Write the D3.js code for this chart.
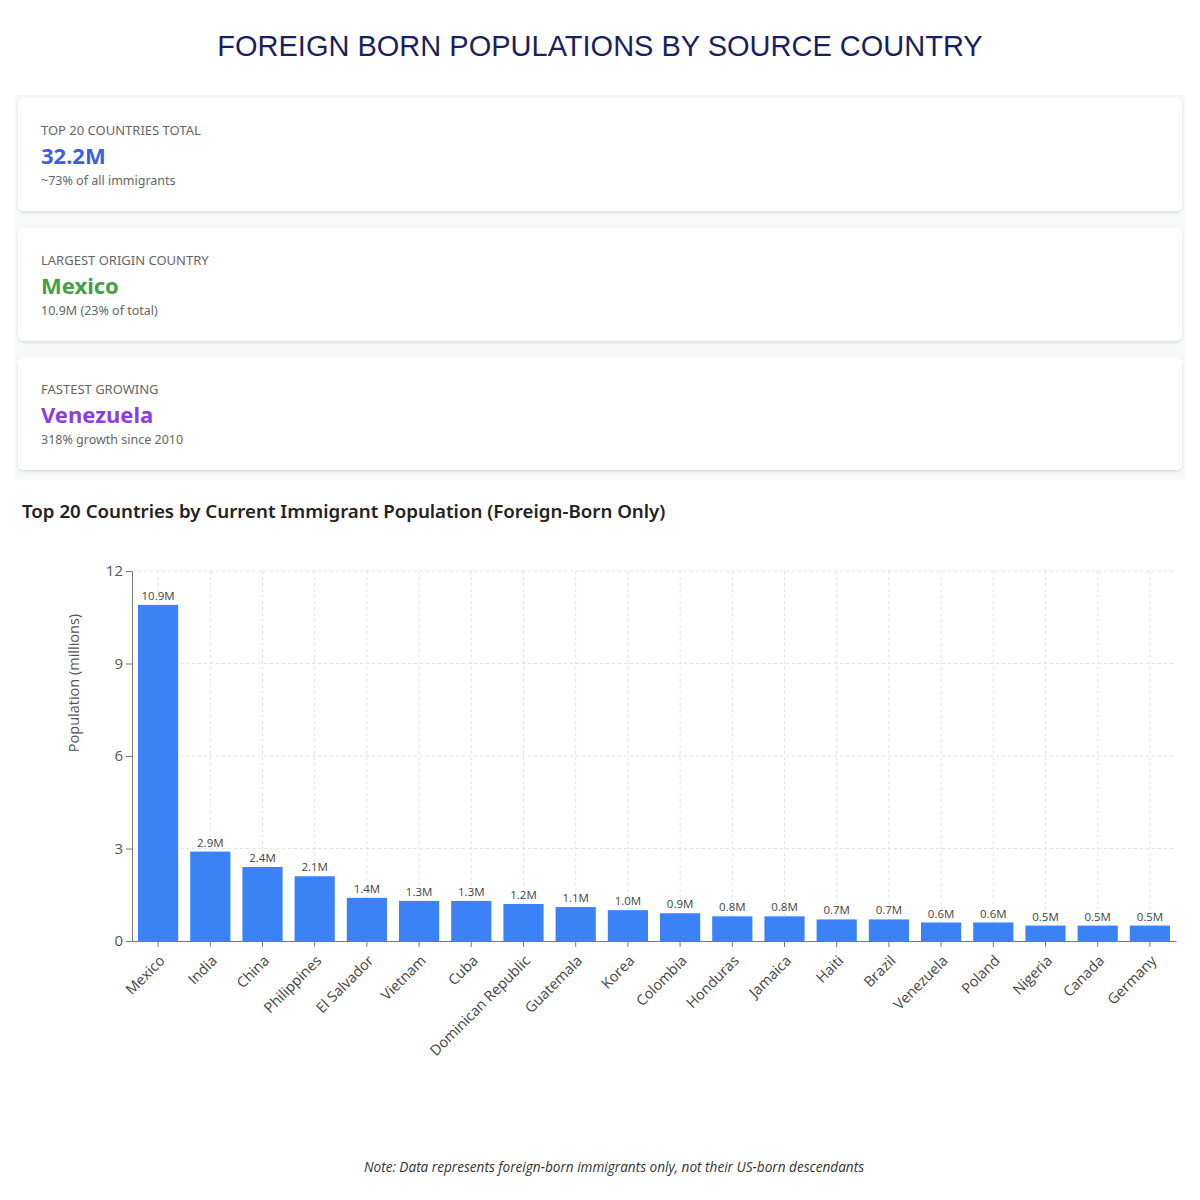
<!DOCTYPE html>
<html>
<head>
<meta charset="utf-8">
<script src="https://cdn.jsdelivr.net/npm/d3@7"></script>
<style>
  body { margin: 0; background: #fff; }
  svg { display: block; }
</style>
</head>
<body>
<div id="chart"></div>
<script>
const width = 1200, height = 1200;

// data
const countries = ['Mexico', 'India', 'China', 'Philippines', 'El Salvador', 'Vietnam', 'Cuba',
  'Dominican Republic', 'Guatemala', 'Korea', 'Colombia', 'Honduras', 'Jamaica', 'Haiti',
  'Brazil', 'Venezuela', 'Poland', 'Nigeria', 'Canada', 'Germany'];
const population = [10.9, 2.9, 2.4, 2.1, 1.4, 1.3, 1.3, 1.2, 1.1, 1.0, 0.9, 0.8, 0.8, 0.7,
  0.7, 0.6, 0.6, 0.5, 0.5, 0.5];
const yTicks = [0, 3, 6, 9, 12];

const cardLabels = ['TOP 20 COUNTRIES TOTAL', 'LARGEST ORIGIN COUNTRY', 'FASTEST GROWING'];
const cardValues = ['32.2M', 'Mexico', 'Venezuela'];
const cardNotes = ['~73% of all immigrants', '10.9M (23% of total)', '318% growth since 2010'];
const cardColors = ['#3d5fe0', '#43a047', '#8b3dec'];

const svg = d3.select('#chart').append('svg')
  .attr('width', width)
  .attr('height', height);

const defs = svg.append('defs');
const shadow = defs.append('filter').attr('id', 'shadow')
  .attr('x', '-5%').attr('y', '-20%').attr('width', '110%').attr('height', '150%');
shadow.append('feDropShadow')
  .attr('dx', 0).attr('dy', 1.5).attr('stdDeviation', 1.5)
  .attr('flood-color', '#000').attr('flood-opacity', 0.12);

// main title
svg.append('text')
  .attr('x', 600).attr('y', 56)
  .attr('text-anchor', 'middle')
  .style('font-family', '"Liberation Sans", Arial, sans-serif')
  .style('font-size', '29px')
  .style('fill', '#1b1f5e')
  .text('FOREIGN BORN POPULATIONS BY SOURCE COUNTRY');

// stat cards
svg.append('rect')
  .attr('x', 15).attr('y', 95).attr('width', 1170).attr('height', 385)
  .attr('fill', '#f7f8fa');

const cardY = [98, 228, 357];
const cards = svg.selectAll('g.card')
  .data(cardLabels)
  .join('g')
    .attr('class', 'card')
    .attr('transform', (d, i) => `translate(18,${cardY[i]})`);

cards.append('rect')
  .attr('width', 1164).attr('height', 113)
  .attr('rx', 6)
  .attr('fill', '#fff')
  .attr('filter', 'url(#shadow)');

cards.append('text')
  .attr('x', 23).attr('y', 37)
  .style('font-family', '"Noto Sans", sans-serif')
  .style('font-size', '13px')
  .style('fill', '#666')
  .text(d => d);

cards.append('text')
  .attr('x', 23).attr('y', 66)
  .style('font-family', '"Noto Sans", sans-serif')
  .style('font-size', '22px')
  .style('font-weight', 'bold')
  .style('fill', (d, i) => cardColors[i])
  .text((d, i) => cardValues[i]);

cards.append('text')
  .attr('x', 23).attr('y', 87)
  .style('font-family', '"Noto Sans", sans-serif')
  .style('font-size', '12.5px')
  .style('fill', '#666')
  .text((d, i) => cardNotes[i]);

// chart title
svg.append('text')
  .attr('x', 22).attr('y', 518)
  .style('font-family', '"Noto Sans", sans-serif')
  .style('font-size', '18.7px')
  .style('font-weight', 600)
  .style('fill', '#222')
  .text('Top 20 Countries by Current Immigrant Population (Foreign-Born Only)');

// scales
const x = d3.scaleBand()
  .domain(countries)
  .range([132, 1176])
  .paddingInner(0.23)
  .paddingOuter(0.115);

const y = d3.scaleLinear()
  .domain([0, 12])
  .range([941, 571]);

// grid
const grid = svg.append('g')
  .attr('stroke', '#e3e3e3')
  .attr('stroke-dasharray', '3 3');

grid.selectAll('line.h')
  .data(yTicks.filter(d => d > 0))
  .join('line')
    .attr('class', 'h')
    .attr('x1', 132).attr('x2', 1176)
    .attr('y1', d => y(d)).attr('y2', d => y(d));

grid.selectAll('line.v')
  .data(countries)
  .join('line')
    .attr('class', 'v')
    .attr('x1', d => x(d) + x.bandwidth() / 2)
    .attr('x2', d => x(d) + x.bandwidth() / 2)
    .attr('y1', 571).attr('y2', 941);

// bars
svg.selectAll('rect.bar')
  .data(population)
  .join('rect')
    .attr('class', 'bar')
    .attr('x', (d, i) => x(countries[i]))
    .attr('y', d => y(d))
    .attr('width', x.bandwidth())
    .attr('height', d => y(0) - y(d))
    .attr('fill', '#3b82f6');

svg.selectAll('text.val')
  .data(population)
  .join('text')
    .attr('class', 'val')
    .attr('x', (d, i) => x(countries[i]) + x.bandwidth() / 2)
    .attr('y', d => y(d) - 5)
    .attr('text-anchor', 'middle')
    .style('font-family', '"Open Sans", sans-serif')
    .style('font-size', '11.5px')
    .style('fill', '#444')
    .text(d => d.toFixed(1) + 'M');

// axes
const yAxis = svg.append('g')
  .attr('transform', 'translate(132,0)')
  .call(d3.axisLeft(y).tickValues(yTicks).tickSize(6).tickPadding(3));

const xAxis = svg.append('g')
  .attr('transform', 'translate(0,941)')
  .call(d3.axisBottom(x).tickSize(6).tickSizeOuter(0));

[yAxis, xAxis].forEach(a => {
  a.select('.domain').attr('stroke', '#777');
  a.selectAll('.tick line').attr('stroke', '#777');
});

yAxis.selectAll('text')
  .style('font-family', '"Open Sans", sans-serif')
  .style('font-size', '15px')
  .style('fill', '#555');

xAxis.selectAll('text')
  .style('font-family', '"Open Sans", sans-serif')
  .style('font-size', '14.5px')
  .style('fill', '#444')
  .attr('text-anchor', 'end')
  .attr('y', 0)
  .attr('dy', '0.35em')
  .attr('transform', 'translate(4,17) rotate(-45)');

svg.append('text')
  .attr('transform', 'translate(79,683) rotate(-90)')
  .attr('text-anchor', 'middle')
  .style('font-family', '"Open Sans", sans-serif')
  .style('font-size', '14.5px')
  .style('fill', '#555')
  .text('Population (millions)');

// footnote
svg.append('text')
  .attr('x', 614).attr('y', 1172)
  .attr('text-anchor', 'middle')
  .style('font-family', '"Open Sans", sans-serif')
  .style('font-size', '13.6px')
  .style('font-style', 'italic')
  .style('fill', '#333')
  .text('Note: Data represents foreign-born immigrants only, not their US-born descendants');
</script>
</body>
</html>
